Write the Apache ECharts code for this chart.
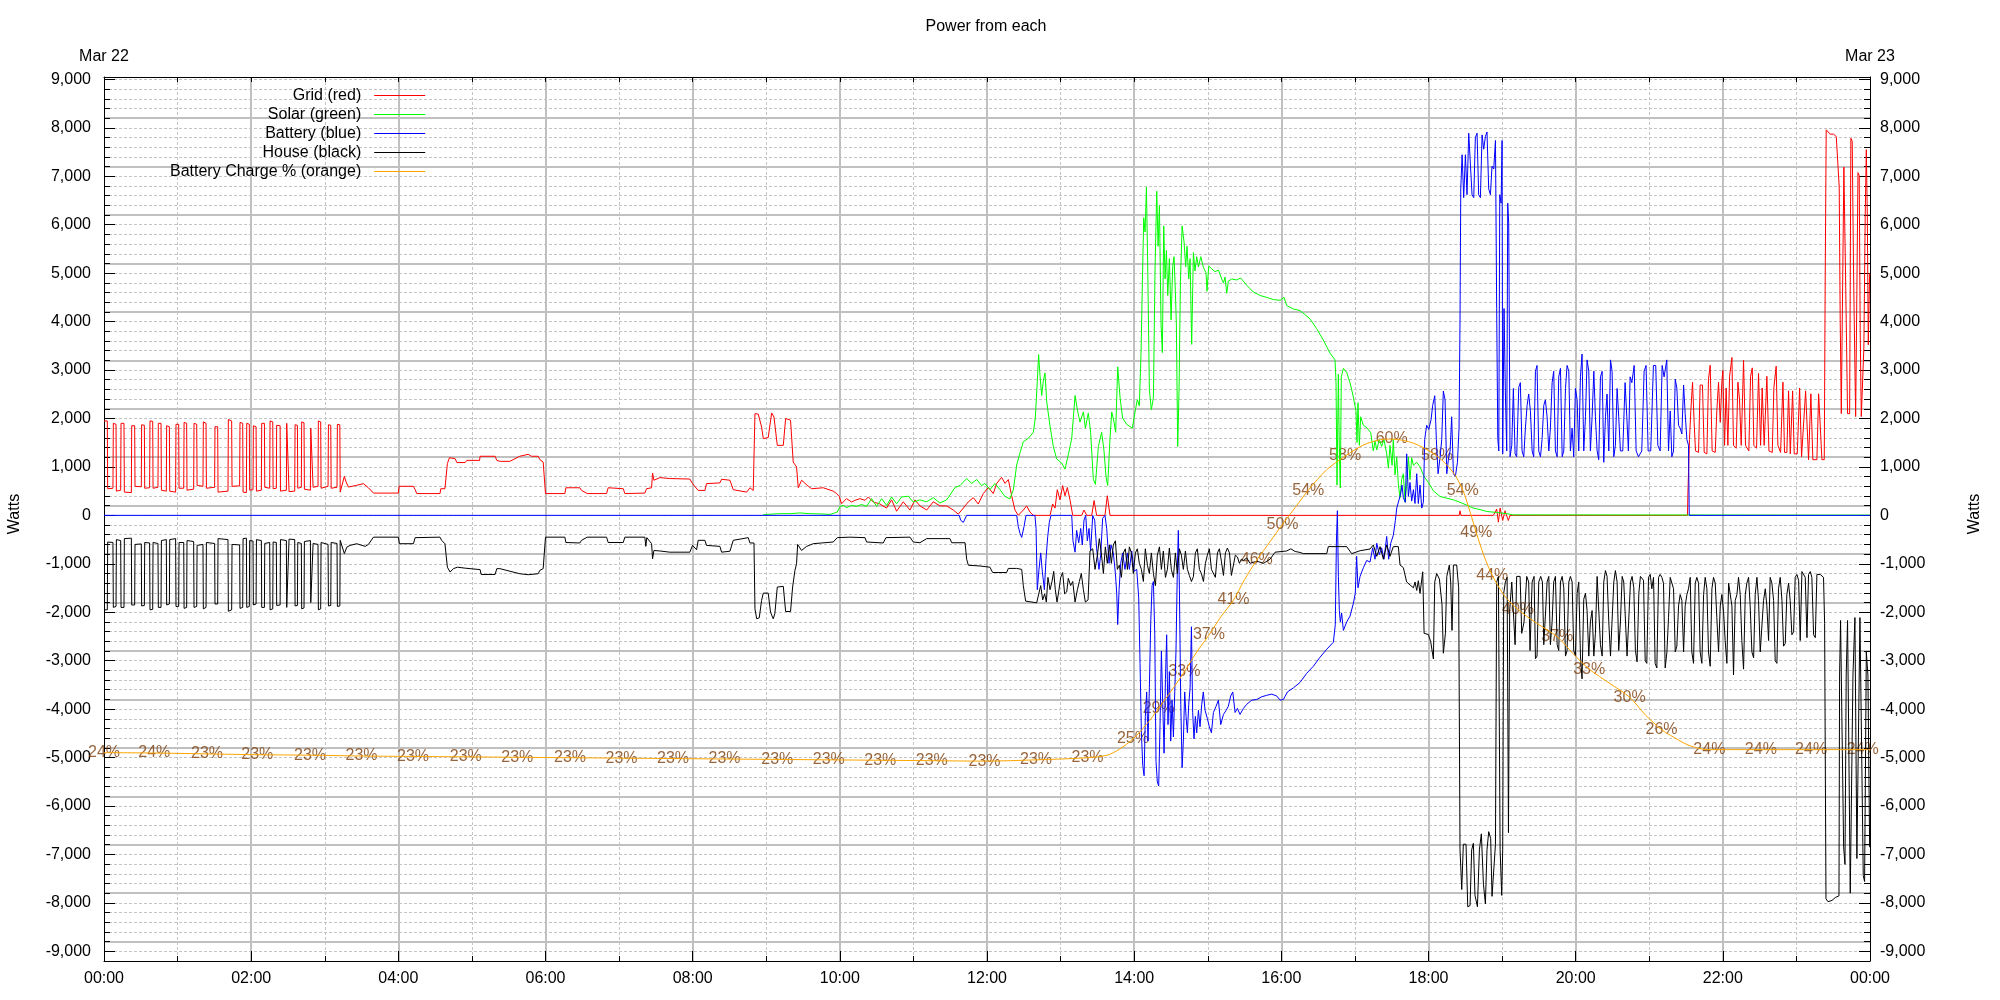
<!DOCTYPE html>
<html><head><meta charset="utf-8">
<script src="https://cdn.jsdelivr.net/npm/echarts@6/dist/echarts.min.js"></script>
<style>html,body{margin:0;padding:0;background:#fff}#c{width:2000px;height:1000px}</style>
</head><body><div id="c"></div>
<script>
// ---------- DATA (x = minutes after midnight, y = watts) ----------
const seriesNames = ['Grid (red)', 'Solar (green)', 'Battery (blue)', 'House (black)', 'Battery Charge % (orange)'];
const dateLabels = ['Mar 22', 'Mar 23'];
const yTickValues = [-9000,-8000,-7000,-6000,-5000,-4000,-3000,-2000,-1000,0,1000,2000,3000,4000,5000,6000,7000,8000,9000];

const gridData = [[0,1950],[2.7,1950],[3,550],[7.3,560],[7.6,1900],[9.8,1880],[10.1,500],[13.6,520],[13.9,1900],[16.3,1900],[16.6,480],[22.3,470],[22.6,1850],[25,1850],[25.3,600],[30.4,590],[30.7,1870],[32.9,1860],[33.2,560],[37.2,570],[37.5,1950],[39.7,1940],[40,560],[44,580],[44.3,1900],[46.5,1900],[46.8,520],[50.8,500],[51.1,1850],[53.3,1830],[53.6,500],[58.4,480],[58.7,1880],[60.9,1880],[61.2,560],[65,560],[65.3,1920],[67.4,1900],[67.7,520],[73.1,540],[73.4,1900],[75.6,1880],[75.9,620],[80.7,600],[81,1930],[83.2,1900],[83.5,560],[90.2,580],[90.5,1830],[92.7,1830],[93,480],[101.1,500],[101.4,1980],[104.1,1950],[104.4,600],[110.6,610],[110.9,1920],[113.1,1900],[113.4,480],[116.1,470],[116.4,1900],[118.5,1880],[118.8,520],[121.5,530],[121.8,1850],[124,1830],[124.3,500],[128.3,520],[128.6,1900],[130.8,1900],[131.1,580],[135.1,560],[135.4,1950],[137.6,1930],[137.9,550],[140.5,560],[140.8,1860],[143.6,1850],[143.9,500],[148.7,520],[149,1900],[150.6,1900],[150.9,490],[155.5,500],[155.8,1870],[157.7,1860],[158,560],[160.9,580],[161.2,1930],[163.1,1910],[163.4,540],[168.3,520],[168.6,1800],[170.2,1790],[170.5,580],[174.5,600],[174.8,1950],[176.7,1930],[177,560],[182.7,600],[183,1870],[184.9,1860],[185.2,560],[190,580],[190.3,1880],[192.3,1870],[192.6,480],[193.9,480],[196,805],[197.4,690],[199.3,585],[206,620],[211.5,655],[215.6,570],[219.7,460],[240,460],[240.6,600],[252.3,600],[253.7,530],[255,450],[274,450],[274.6,550],[278,550],[280,1070],[281.7,1190],[286.3,1170],[287.7,1090],[294.5,1090],[295.8,1135],[306.2,1135],[306.7,1220],[318.9,1220],[320.3,1135],[323,1115],[330.9,1115],[339,1220],[345.9,1260],[348.6,1220],[354,1220],[355.4,1150],[358.1,1100],[360,450],[375.8,450],[376.6,570],[388,570],[389.4,515],[394,450],[409.8,450],[411.1,570],[423.4,550],[424.7,450],[441,460],[442.4,550],[446.5,570],[447.3,875],[448.4,725],[453.3,780],[461.4,760],[477.7,750],[479.9,655],[484.5,515],[490,515],[491.3,655],[502.2,670],[503.6,745],[510.4,725],[513.1,530],[524,480],[526.7,570],[529.4,515],[530.8,2100],[533.5,2090],[536.2,1825],[537.6,1585],[541.6,1605],[544.4,2115],[546.3,2030],[549,1445],[553.9,1445],[555.8,2000],[559.8,1965],[562,1100],[564.7,1000],[566.1,570],[568.8,725],[574.3,600],[577,550],[586.5,570],[587.9,530],[594.6,500],[597.4,450],[599.5,390],[601.4,240],[605.5,345],[609.6,275],[612.3,310],[616.4,345],[620.5,310],[623.2,380],[627.3,275],[632.7,236],[638.1,150],[642.2,320],[646.3,85],[651.7,280],[657.2,110],[661.3,320],[665.3,195],[670.8,110],[676.2,280],[681.6,195],[687.1,195],[692.5,110],[696.6,25],[700.7,150],[704.8,280],[708.8,365],[712.9,235],[717,450],[721.1,575],[725.1,450],[727.9,660],[731.9,785],[734.7,660],[737.4,740],[740.1,405],[742.8,110],[745.5,0],[749.6,110],[752.3,195],[755,70],[757.8,0],[771.4,0],[773.5,235],[775.5,150],[777.3,530],[779.5,320],[781.7,615],[783.6,405],[785.5,575],[787.7,320],[789.9,0],[797.2,0],[799.1,110],[801.3,0],[805.4,0],[807.3,305],[809.4,0],[816.2,0],[818.1,405],[820.3,0],[1105,0],[1105.7,95],[1106.5,0],[1132.9,0],[1135.6,130],[1137,-140],[1138.4,150],[1140.5,-105],[1142.4,95],[1145.1,-105],[1146.5,0],[1291.2,0],[1291.5,440],[1292.6,440],[1292.8,1565],[1293.9,2160],[1295.3,2750],[1296.6,1920],[1297.7,1330],[1300.2,1300],[1301.5,2690],[1303.4,2690],[1304.8,1300],[1307,1270],[1308.3,2810],[1309.7,3100],[1311.3,1330],[1313.8,1300],[1315.1,2160],[1316.5,2750],[1317.9,1920],[1319.2,2750],[1320,2990],[1321.4,1445],[1322.7,2630],[1324.1,1445],[1325.5,2870],[1327.4,3260],[1328.7,1445],[1330.9,1385],[1332.3,2750],[1333.6,2390],[1335,1445],[1336.9,3200],[1338.5,1445],[1341.2,1330],[1342.6,2870],[1344,3045],[1345.3,1445],[1347.5,1385],[1349.1,2930],[1350.8,1445],[1352.1,2630],[1353.7,1445],[1355.9,2870],[1357.6,1330],[1360.3,1300],[1361.6,2630],[1363.5,3080],[1364.9,1445],[1367.1,1300],[1369,2750],[1370.3,1300],[1372.2,1300],[1373.6,2570],[1375,1270],[1376.9,2570],[1378.2,1270],[1380.7,1270],[1382.6,2630],[1384.2,1210],[1385.8,1210],[1387.5,2570],[1389.9,1150],[1391.8,2510],[1393.4,1150],[1396.7,1150],[1398.1,2510],[1400.8,1150],[1402.7,1150],[1403.5,5000],[1404.3,7960],[1405.7,7940],[1407.6,7870],[1410.3,7870],[1412.5,7820],[1414.1,7820],[1414.9,6780],[1415.7,4050],[1416.6,2100],[1417.9,2100],[1418.7,7190],[1419.8,7190],[1420.6,4050],[1421.7,2100],[1423.4,2100],[1424.4,7785],[1425.5,7725],[1426.6,5000],[1428.3,2040],[1429.3,4645],[1430.2,7075],[1431.2,7015],[1432,3815],[1432.9,2040],[1434.2,2040],[1435,3460],[1436.1,6185],[1437,7550],[1437.8,6185],[1438.6,3520],[1439.7,5000]];

const solarData = [[537.6,15],[540.3,20],[551.2,35],[559.3,35],[567.5,50],[575.6,35],[583.8,30],[591.9,20],[594.6,40],[597.9,70],[600.1,185],[602.8,205],[605.5,160],[609.6,205],[613.7,185],[617.8,225],[621.8,185],[625.9,345],[630,185],[634.1,345],[638.2,205],[642.2,380],[646.3,240],[650.4,380],[655.8,395],[659.9,275],[665.3,320],[670.8,280],[676.2,365],[681.6,255],[687.1,320],[689.8,420],[693.9,575],[698,615],[703.4,760],[707.5,660],[711.6,740],[715.6,615],[718.3,660],[722.4,530],[726.5,660],[730.6,530],[734.7,390],[738.7,340],[741.5,530],[744.2,1040],[746.9,1290],[749.6,1520],[753.7,1590],[757.8,1715],[759.4,2010],[761,2770],[762.1,3320],[763.2,2895],[764.6,2475],[765.9,2770],[767.3,2940],[768.7,2345],[771.4,1840],[774.1,1420],[776.8,1165],[780.9,1080],[783.6,955],[786.3,1250],[789.1,1590],[791.8,2475],[793.7,2180],[795.8,1925],[798.6,2135],[800.2,1800],[802.6,2110],[804.5,1715],[806.7,745],[808.4,640],[810.8,1420],[813.5,1715],[815.4,1335],[817.1,785],[818.4,615],[820.3,1590],[821.7,2135],[823.6,1925],[824.9,1715],[826.6,3065],[828.5,2430],[830.6,2010],[833.9,1880],[838.5,1800],[841,2175],[842.6,2390],[844.2,2260],[845.6,3360],[846.7,4795],[847.8,6145],[848.9,5850],[850,6780],[851,5215],[852.4,2600],[854,2180],[855.7,2430],[857,5045],[858.4,6690],[859.5,5555],[860.6,6400],[861.9,3950],[863,3360],[864.1,5975],[865.2,4880],[866.3,5470],[867.4,4540],[868.7,5300],[870.1,4035],[871.4,5130],[872.5,5340],[873.6,4625],[874.4,3950],[875.5,1420],[876.6,2600],[877.7,4795],[879.1,5975],[880.7,5640],[882,5130],[883.1,5555],[884.5,4880],[885.6,5300],[886.9,3530],[888.3,5425],[889.6,5045],[891,5340],[892.4,5130],[894.3,5340],[896.5,5115],[898.6,5005],[899.4,4625],[900.8,5150],[903.2,5090],[906,5030],[908.7,5065],[911.4,4880],[912.8,4795],[914.1,4920],[915.5,4585],[916.8,4835],[919.6,4880],[923.6,4860],[926.9,4900],[931.8,4750],[937.2,4610],[942.7,4540],[948.1,4500],[953.5,4455],[959,4440],[962.2,4500],[964.4,4330],[969.9,4260],[975.2,4230],[983.4,4055],[988.8,3855],[994.2,3620],[999.7,3350],[1003.8,3210],[1004.6,2740],[1005.4,625],[1006.5,2915],[1007.3,1330],[1008.1,565],[1008.9,2860],[1010.6,3035],[1013.3,2950],[1016,2740],[1018.7,2445],[1020.9,2150],[1021.7,1505],[1022.5,2325],[1023.6,1445],[1024.7,2035],[1026.9,1860],[1030.1,1800],[1032.9,1705],[1035,1330],[1036.4,1540],[1037.8,1350],[1039.9,1565],[1041.8,1425],[1043.7,1565],[1045.9,1270],[1047.3,975],[1048.6,1445],[1050.3,1035],[1051.3,1565],[1052.7,835],[1054.1,1210],[1055.4,645],[1056.8,365],[1058.1,740],[1059.5,860],[1060.9,270],[1062.2,625],[1063.6,1210],[1064.9,740],[1066.3,1190],[1067.7,1035],[1070.4,1095],[1073.1,1000],[1076.4,800],[1079.9,680],[1084,505],[1089.4,390],[1094.9,355],[1100.3,320],[1105.7,270],[1111.2,210],[1116.6,150],[1122,120],[1127.5,80],[1135.6,60],[1143.8,35],[1149.2,10],[1440,5]];

const batteryData = [[0,0],[461.5,0],[462,-40],[462.5,0],[697.4,0],[698.5,-100],[700.7,-145],[702.3,-185],[703.4,0],[744.2,0],[745.5,-230],[746.9,-370],[748.3,-455],[750.2,-230],[751.8,0],[759.1,0],[760,-270],[761,-1535],[762.4,-1115],[763.8,-775],[765.1,-1155],[766.8,-1535],[768.1,-905],[769.5,-440],[770.8,-145],[772.2,0],[789.1,0],[790.1,-525],[791.8,-760],[793.1,-310],[794.8,-565],[796.4,-270],[797.7,-610],[799.1,-100],[800.5,0],[801.8,-525],[803.2,-270],[804.5,-735],[806.2,0],[807.8,-100],[809.4,-690],[811.3,-1115],[812.7,-820],[814.3,-60],[816.2,0],[817.6,-270],[819.5,-990],[821.1,-610],[823,-775],[824.7,-1200],[825.8,-1620],[826.6,-2255],[827.7,-1535],[829,-990],[830.6,-775],[832.5,-1115],[834.5,-775],[836.1,-1115],[838,-735],[839.9,-1155],[842.1,-1115],[843.7,-1705],[844.8,-3055],[845.9,-4490],[847,-5165],[848.1,-5375],[849.1,-4150],[850.2,-3645],[851.3,-4660],[852.4,-3560],[853.5,-2210],[854.6,-1450],[855.7,-1365],[856.8,-2465],[857.8,-5080],[858.9,-5505],[860,-5585],[861.1,-4320],[862.2,-2800],[863.3,-3900],[864.4,-4910],[865.5,-3390],[866.5,-2465],[867.6,-4320],[868.7,-3225],[869.8,-4660],[870.9,-3815],[872,-4575],[873.1,-3645],[874.1,-2800],[875.2,-1115],[876,-310],[876.9,-1535],[878,-3900],[879.1,-5210],[880.1,-4660],[881.2,-3645],[882.3,-4150],[883.4,-4490],[884.5,-3900],[885.6,-3560],[886.7,-2300],[887.7,-4065],[888.8,-4615],[889.9,-4150],[891,-4490],[892.4,-4025],[893.7,-4365],[895.1,-3900],[896.4,-3645],[897.8,-4025],[899.7,-4195],[901.3,-4365],[903,-4490],[904.6,-4070],[906.8,-3940],[908.7,-3815],[910.6,-4320],[912.8,-4110],[915,-4025],[916.8,-3940],[918.7,-3730],[920.4,-3645],[922.3,-4070],[924.2,-3985],[926.3,-4110],[929.1,-3985],[931.8,-3900],[935.9,-3815],[940,-3800],[944,-3745],[948.1,-3715],[952.2,-3690],[956.3,-3730],[959,-3815],[961.7,-3800],[965,-3645],[969.9,-3560],[975.2,-3450],[980.7,-3260],[986.1,-3115],[991.5,-2930],[997,-2765],[1002.4,-2620],[1004,-2260],[1004.9,-550],[1005.7,95],[1006.5,-1260],[1007.3,-1965],[1008.1,-2200],[1009.2,-2020],[1010.6,-2375],[1013.3,-2200],[1016,-2080],[1018.7,-1820],[1020.3,-1610],[1021.4,-845],[1022.5,-1495],[1024.2,-1260],[1026.9,-1080],[1029.6,-930],[1032.3,-965],[1034.5,-670],[1036.4,-905],[1037.8,-575],[1039.9,-810],[1041.8,-670],[1043.7,-905],[1045.9,-435],[1047.5,-905],[1049.2,-575],[1051.3,-410],[1053,-105],[1054.1,150],[1055.7,295],[1057.3,445],[1058.4,625],[1059.5,365],[1061.1,270],[1062.2,1270],[1063.6,390],[1064.9,680],[1066.3,295],[1067.7,530],[1069,245],[1070.4,860],[1071.7,245],[1073.1,625],[1074.5,150],[1075.8,270],[1076.9,1565],[1078.5,1860],[1080.2,1775],[1082.1,1975],[1083.4,2270],[1085.1,2470],[1086.4,1565],[1087.8,860],[1089.4,1190],[1090.8,1565],[1092.1,2565],[1093.5,2385],[1094.9,860],[1096.2,1150],[1097.6,1330],[1098.9,2035],[1100.3,860],[1101.9,800],[1103.6,1095],[1104.9,1800],[1105.7,4035],[1106.3,6740],[1107.4,7445],[1108.7,6560],[1110.1,7445],[1111.4,6620],[1112.8,7890],[1114.2,7890],[1115.5,6620],[1116.9,6560],[1118.2,7800],[1119.6,7890],[1120.9,6620],[1122.3,6560],[1123.7,7855],[1125,7560],[1126.4,7820],[1127.7,7915],[1129.1,6740],[1130.5,6620],[1131.8,7210],[1133.2,7150],[1134.6,7740],[1135.6,4270],[1136.5,1590],[1137.3,1330],[1138.1,6620],[1139.2,6445],[1140,7740],[1140.5,1270],[1141.6,4270],[1142.7,2505],[1143.8,1330],[1144.6,6445],[1145.4,6030],[1146.5,1210],[1147.9,1445],[1149.2,2620],[1150.6,1270],[1151.9,1210],[1153.6,2645],[1154.9,2740],[1156.3,1330],[1157.7,1210],[1159,1800],[1160.4,2270],[1161.7,2505],[1163.1,2150],[1164.5,1330],[1165.8,1210],[1167.2,2975],[1168.5,3095],[1169.9,1330],[1171.3,1210],[1172.6,1565],[1174,2270],[1175.3,2385],[1176.7,2035],[1178.1,1330],[1179.4,1800],[1180.8,2740],[1182.1,2975],[1183.5,1330],[1184.9,1210],[1186.2,2860],[1187.6,3035],[1189,1210],[1190.3,1330],[1191.7,2620],[1193,3095],[1194.4,2975],[1195.7,1330],[1197.1,1800],[1198.4,1210],[1199.8,2620],[1201.2,2385],[1202.5,1330],[1203.9,2860],[1205.2,3330],[1206.6,1330],[1208,2035],[1209.3,3210],[1210.7,2975],[1212,1330],[1213.4,2035],[1214.8,2975],[1216.1,2035],[1217.5,1330],[1218.8,1150],[1220.2,2860],[1221.6,2975],[1222.9,1095],[1224.3,2035],[1225.6,2505],[1227,1330],[1228.4,3210],[1229.7,2975],[1231.1,1210],[1232.4,1445],[1233.8,2620],[1235.1,2035],[1236.5,1330],[1238.4,1330],[1240.3,2740],[1241.7,2035],[1243,1330],[1244.4,2860],[1245.8,2740],[1247.7,3095],[1249.3,1330],[1251.2,1210],[1253.9,1330],[1255.8,2975],[1257.4,3095],[1259.1,1330],[1261.2,1330],[1263.4,3095],[1265.3,3095],[1267,1445],[1268.9,1330],[1270.5,3095],[1272.1,2860],[1274.3,3210],[1275.7,1330],[1277.1,2155],[1278.4,1210],[1279.8,1330],[1281.2,2810],[1282.5,2630],[1283.9,1860],[1285.2,1800],[1286.6,1680],[1288,2690],[1289.3,2100],[1290.7,1565],[1292,1445],[1292.6,0],[1440,0]];

const houseData = [[0,-1950],[2.7,-1950],[3,-550],[7.3,-560],[7.6,-1900],[9.8,-1880],[10.1,-500],[13.6,-520],[13.9,-1900],[16.3,-1900],[16.6,-480],[22.3,-470],[22.6,-1850],[25,-1850],[25.3,-600],[30.4,-590],[30.7,-1870],[32.9,-1860],[33.2,-560],[37.2,-570],[37.5,-1950],[39.7,-1940],[40,-560],[44,-580],[44.3,-1900],[46.5,-1900],[46.8,-520],[50.8,-500],[51.1,-1850],[53.3,-1830],[53.6,-500],[58.4,-480],[58.7,-1880],[60.9,-1880],[61.2,-560],[65,-560],[65.3,-1920],[67.4,-1900],[67.7,-520],[73.1,-540],[73.4,-1900],[75.6,-1880],[75.9,-620],[80.7,-600],[81,-1930],[83.2,-1900],[83.5,-560],[90.2,-580],[90.5,-1830],[92.7,-1830],[93,-480],[101.1,-500],[101.4,-1980],[104.1,-1950],[104.4,-600],[110.6,-610],[110.9,-1920],[113.1,-1900],[113.4,-480],[116.1,-470],[116.4,-1900],[118.5,-1880],[118.8,-520],[121.5,-530],[121.8,-1850],[124,-1830],[124.3,-500],[128.3,-520],[128.6,-1900],[130.8,-1900],[131.1,-580],[135.1,-560],[135.4,-1950],[137.6,-1930],[137.9,-550],[140.5,-560],[140.8,-1860],[143.6,-1850],[143.9,-500],[148.7,-520],[149,-1900],[150.6,-1900],[150.9,-490],[155.5,-500],[155.8,-1870],[157.7,-1860],[158,-560],[160.9,-580],[161.2,-1930],[163.1,-1910],[163.4,-540],[168.3,-520],[168.6,-1800],[170.2,-1790],[170.5,-580],[174.5,-600],[174.8,-1950],[176.7,-1930],[177,-560],[182.7,-600],[183,-1870],[184.9,-1860],[185.2,-560],[190,-580],[190.3,-1880],[192.3,-1870],[192.6,-515],[196,-790],[198,-655],[200.7,-620],[206,-585],[213,-640],[215.6,-600],[219.7,-450],[240,-450],[240.9,-585],[252.3,-585],[253.7,-460],[274,-450],[275.3,-515],[278,-585],[280,-1070],[282.2,-1170],[284.9,-1100],[288.2,-1070],[294.5,-1090],[295.8,-1120],[306.7,-1120],[307.5,-1220],[318.9,-1220],[320.3,-1100],[322.8,-1100],[339,-1205],[345.9,-1225],[354,-1205],[355.4,-1135],[358.1,-1100],[360,-450],[375.8,-450],[376.6,-560],[388,-570],[389.4,-515],[394,-450],[409.8,-450],[411.1,-560],[423.4,-560],[424.7,-450],[441,-450],[441.8,-640],[442.6,-460],[446.5,-585],[447.3,-895],[448.4,-725],[453.3,-735],[461.4,-760],[477.7,-760],[479.9,-620],[483.2,-710],[484.5,-515],[490,-515],[491.3,-620],[502.2,-640],[503.6,-760],[510.4,-740],[513.1,-515],[525.3,-460],[526.7,-570],[530,-570],[530.8,-1930],[532.2,-2135],[534.3,-2115],[536.2,-1755],[537.6,-1605],[541.6,-1605],[543.5,-2000],[545.7,-2135],[547,-2030],[549,-1480],[553.9,-1465],[555.8,-1985],[559.8,-1985],[561.5,-1480],[563.4,-1135],[564.7,-1000],[565.6,-600],[568.8,-725],[572.9,-640],[578.3,-585],[585.1,-570],[594.6,-550],[597.9,-460],[608.2,-450],[620.5,-460],[621.8,-550],[635.4,-570],[637.6,-460],[657.2,-450],[659.9,-550],[665.3,-565],[670.8,-480],[689.8,-480],[691.2,-565],[702.1,-565],[703.4,-905],[704.8,-1030],[714.3,-1045],[722.4,-1070],[724.6,-1180],[736,-1180],[737.4,-1095],[744.2,-1095],[748.3,-1115],[749.6,-1450],[751.5,-1770],[760.5,-1805],[762.1,-1790],[763.8,-1450],[765.4,-1745],[767,-1620],[768.4,-1790],[769.7,-1280],[771.4,-1535],[773,-1365],[774.4,-1155],[775.7,-1535],[777.1,-1790],[778.7,-1535],[780.1,-1280],[781.7,-1180],[783.3,-1620],[785,-1580],[786.3,-1300],[788.2,-1450],[789.9,-1365],[791.8,-1790],[793.7,-1535],[795.3,-1365],[796.9,-1200],[798.6,-1535],[800.2,-1790],[802.4,-1745],[804,-735],[806.2,-690],[808.1,-1115],[810,-820],[811.6,-480],[813.2,-775],[814.9,-1200],[816.5,-650],[818.1,-990],[819.8,-610],[821.4,-990],[823,-610],[824.7,-525],[826.3,-1115],[827.9,-1030],[829.6,-1280],[831.2,-775],[832.8,-690],[834.5,-1115],[836.1,-650],[837.7,-775],[839.3,-1200],[841,-775],[842.6,-690],[844.2,-990],[845.9,-1115],[847.5,-1365],[849.1,-690],[850.8,-1030],[852.4,-1200],[854,-775],[855.7,-1200],[857.3,-1450],[858.9,-820],[860.6,-650],[862.2,-1115],[863.8,-735],[865.5,-1280],[867.1,-1115],[868.7,-675],[870.3,-1115],[872,-1280],[873.6,-775],[875.2,-1200],[876.9,-690],[878.5,-820],[880.1,-1115],[881.8,-735],[883.4,-1115],[885,-1240],[886.7,-1365],[888.3,-1265],[889.9,-775],[891.5,-690],[893.2,-1115],[894.8,-1200],[896.5,-1365],[898.1,-990],[899.7,-820],[901.3,-690],[903,-1115],[904.6,-1115],[906.2,-1280],[907.9,-775],[909.5,-690],[911.1,-945],[912.8,-1240],[914.4,-775],[916,-675],[917.7,-775],[919.3,-1240],[920.9,-1280],[922.5,-820],[924.2,-860],[925.8,-990],[927.4,-905],[929.1,-930],[931.8,-880],[934.5,-990],[940,-945],[945.4,-990],[950.8,-905],[954.9,-760],[964.4,-735],[967.7,-690],[971.2,-745],[975.2,-765],[977.9,-790],[997,-790],[998.3,-645],[1013.3,-645],[1017.4,-790],[1024.2,-730],[1032.3,-695],[1035,-610],[1037.8,-845],[1040.5,-645],[1043.2,-905],[1045.9,-610],[1048.6,-845],[1051.3,-645],[1055.4,-645],[1056.8,-1025],[1059.5,-1080],[1062.2,-1375],[1064.9,-1435],[1067.7,-1495],[1069,-1375],[1070.4,-1550],[1071.7,-1350],[1073.1,-1610],[1075.3,-1165],[1076.4,-2435],[1079.9,-2460],[1081.8,-2610],[1084,-2965],[1085.1,-1375],[1086.7,-1200],[1088.9,-1315],[1091,-1845],[1092.1,-2845],[1093.8,-2435],[1094.9,-1260],[1097,-1025],[1098.1,-1375],[1099.2,-2375],[1100.3,-1025],[1103,-1025],[1104.6,-1495],[1105.7,-6905],[1107.1,-7725],[1108.4,-6790],[1110.6,-6790],[1112,-8080],[1113.9,-8055],[1115.2,-6905],[1116.6,-6770],[1117.9,-7845],[1119.9,-8080],[1121.5,-6905],[1123.1,-6575],[1124.8,-7615],[1126.4,-8020],[1127.7,-6905],[1129.1,-6530],[1130.7,-6670],[1131.8,-7865],[1133.2,-7845],[1134.6,-6790],[1135.6,-1375],[1137,-1260],[1138.4,-6905],[1139.7,-7845],[1140.5,-6905],[1141.3,-1610],[1142.7,-1375],[1144.1,-1280],[1145.2,-6550],[1146.2,-1965],[1147.9,-1375],[1149.2,-1375],[1150.6,-2670],[1151.9,-1260],[1154.7,-1260],[1156,-2435],[1157.9,-2200],[1160.1,-1260],[1161.7,-1375],[1162.8,-2790],[1164.5,-1375],[1166.1,-1260],[1167.2,-2960],[1168.5,-2905],[1169.9,-1375],[1171.5,-1260],[1172.9,-1375],[1174,-2670],[1175.3,-2080],[1176.7,-1375],[1178.1,-1260],[1179.4,-2670],[1180.8,-2200],[1182.1,-1375],[1183.5,-1260],[1184.9,-2670],[1186.2,-2790],[1187.6,-1375],[1189,-1260],[1190.3,-1495],[1191.7,-2905],[1193,-2790],[1194.4,-1375],[1195.7,-1260],[1197.1,-1375],[1198.4,-2790],[1199.8,-2905],[1201.2,-1610],[1202.5,-1375],[1203.9,-2905],[1205.2,-3375],[1206.6,-1730],[1208,-1610],[1209.3,-1965],[1210.7,-2905],[1212,-2200],[1213.4,-1965],[1214.8,-2905],[1216.1,-2435],[1217.5,-1260],[1218.8,-1260],[1220.2,-2670],[1221.6,-2905],[1222.9,-1375],[1224.3,-1140],[1225.6,-1260],[1227,-2200],[1228.4,-2905],[1229.7,-2905],[1231.1,-1375],[1232.4,-1140],[1233.8,-1375],[1235.1,-2790],[1236.5,-2200],[1237.9,-1260],[1239.2,-1375],[1241.9,-2905],[1243.3,-2905],[1244.7,-1375],[1246,-1260],[1247.4,-1495],[1248.7,-2790],[1250.1,-3025],[1251.5,-1610],[1252.8,-1260],[1255.3,-1340],[1256.7,-3000],[1258,-3055],[1259.4,-1280],[1260.8,-1220],[1262.1,-1515],[1263.5,-1280],[1264.8,-3055],[1266.2,-3150],[1267.6,-1280],[1268.9,-1220],[1270.3,-1280],[1271.6,-1400],[1273,-3150],[1274.4,-2820],[1275.7,-2110],[1277.1,-1280],[1278.4,-1280],[1279.8,-1515],[1281.2,-2820],[1282.5,-2700],[1283.9,-1870],[1285.2,-1635],[1286.6,-1755],[1288,-2820],[1289.3,-1870],[1290.7,-1635],[1292,-1515],[1293.4,-1280],[1294.7,-2820],[1296.1,-3055],[1297.5,-1400],[1298.8,-1280],[1300.2,-1400],[1301.5,-2820],[1302.9,-3055],[1304.3,-1635],[1305.6,-1280],[1307,-1515],[1308.3,-2820],[1309.7,-3115],[1311.1,-1515],[1312.4,-1280],[1313.8,-1400],[1315.1,-2110],[1316.5,-2820],[1317.9,-1870],[1319.2,-1635],[1320.6,-1990],[1321.9,-2585],[1323.3,-3055],[1324.7,-1400],[1326,-1400],[1327.4,-1870],[1328.7,-3295],[1330.1,-1755],[1331.5,-1635],[1332.8,-1280],[1334.2,-1635],[1335.5,-2585],[1336.9,-3175],[1338.3,-1635],[1339.6,-1400],[1341,-1280],[1342.3,-1870],[1343.7,-2820],[1345.1,-2940],[1346.4,-1635],[1347.8,-1280],[1349.1,-1755],[1350.5,-2820],[1351.8,-2820],[1353.2,-1755],[1354.6,-1515],[1355.9,-1870],[1357.3,-2585],[1358.6,-1280],[1360,-1400],[1361.4,-1755],[1362.7,-3000],[1364.1,-3055],[1365.4,-1515],[1366.8,-1280],[1368.2,-1755],[1369.5,-2700],[1370.9,-2645],[1372.2,-1635],[1373.6,-1400],[1374.9,-1755],[1376.3,-2465],[1377.7,-2405],[1379,-1280],[1380.4,-1220],[1381.8,-1340],[1383.1,-2585],[1384.5,-1160],[1385.8,-1160],[1387.2,-1280],[1388.6,-2525],[1389.9,-1220],[1391.3,-1160],[1392.6,-1280],[1394,-2465],[1395.4,-2525],[1396.7,-1220],[1399.4,-1220],[1402.1,-1280],[1403,-2230],[1404.1,-7915],[1405.7,-7975],[1409,-7950],[1411.7,-7890],[1414.7,-7855],[1415.2,-3295],[1416,-2170],[1417.4,-2170],[1418.5,-6850],[1419.6,-7205],[1420.6,-3295],[1421.7,-2170],[1422.8,-2170],[1423.9,-7800],[1425,-7800],[1426.1,-3295],[1427.7,-2110],[1429.3,-7085],[1430.7,-7085],[1431.8,-2110],[1433.4,-2110],[1434.5,-7440],[1435.6,-7560],[1437,-2820],[1438.3,-3295],[1439.7,-6850]];

// battery state of charge, percent (plotted on its own hidden scale)
const chargeMin = [0,41,84,125,168,210,252,295,337,380,422,464,506,549,591,633,675,718,760,802,818,828,839,850,860,872,881,891,901,911,921,930,940,951,961,972,982,997,1012,1027,1040,1050,1068,1087,1100,1108,1114,1119,1125,1132,1142,1153,1168,1185,1198,1211,1228,1244,1257,1270,1280,1290,1300,1309,1351,1392,1434,1440];
const chargePct = [23.6,23.55,23.45,23.35,23.3,23.2,23.15,23.1,23.05,23.0,22.95,22.9,22.85,22.8,22.75,22.7,22.65,22.6,22.75,23.0,23.3,24.0,25.2,26.9,28.8,31.2,33.1,35.4,37.4,39.6,41.5,43.9,46.2,48.4,50.4,52.5,54.4,56.8,58.4,59.7,60.3,60.4,59.9,58.4,56.5,54.4,51.8,49.4,46.8,44.4,42,40.4,38.8,37.2,35.2,33.4,31.7,30.1,28,26.3,25.4,24.6,24.1,23.95,23.95,23.95,23.95,23.95];
const chargeLbl = [24,24,23,23,23,23,23,23,23,23,23,23,23,23,23,23,23,23,23,23,null,null,25,null,29,null,33,null,37,null,41,null,46,null,50,null,54,null,58,null,null,60,null,58,null,54,null,49,null,44,null,40,null,37,null,33,null,30,null,26,null,null,null,24,24,24,24,null];

// ---------- CHART ----------
const FONT = 'Liberation Sans, Arial, sans-serif';
const MAJOR = '#c0c0c0', MINOR = '#c4c4c4';
const chargeLine = chargeMin.map((m, i) => [m, chargePct[i]]);
const chargeLabels = [];
chargeMin.forEach((m, i) => { if (chargeLbl[i] !== null) chargeLabels.push([m, chargePct[i], chargeLbl[i]]); });
const hhmm = v => String(Math.floor(v / 60) % 24).padStart(2, '0') + ':00';
const fmtW = v => (v % 1000 === 0 ? Number(v).toLocaleString('en-US') : '');
const Y_MIN = -9200, Y_MAX = 9050;
const lbl = { color: '#000', fontSize: 16, fontFamily: FONT };

const chart = echarts.init(document.getElementById('c'), null, { renderer: 'canvas' });
chart.setOption({
  animation: false,
  backgroundColor: '#fff',
  grid: { left: 104, right: 130, top: 77, bottom: 39, containLabel: false, outerBoundsMode: 'none' },
  graphic: [
    { type: 'text', x: 986, y: 27, style: { text: 'Power from each', font: '16px ' + FONT, fill: '#000', align: 'center', verticalAlign: 'middle' } },
    { type: 'text', x: 15, y: 514, rotation: Math.PI / 2, style: { text: 'Watts', font: '16px ' + FONT, fill: '#000', align: 'center', verticalAlign: 'middle' } },
    { type: 'text', x: 1975, y: 514, rotation: Math.PI / 2, style: { text: 'Watts', font: '16px ' + FONT, fill: '#000', align: 'center', verticalAlign: 'middle' } }
  ],
  legend: {
    data: seriesNames, orient: 'vertical', left: 170, top: 86, padding: 0, align: 'right',
    icon: 'rect', itemWidth: 51, itemHeight: 1, itemGap: 0, selectedMode: false,
    textStyle: { color: '#000', fontSize: 16, fontFamily: FONT, lineHeight: 19, padding: [0, 8, 0, 0] }
  },
  xAxis: [
    { type: 'value', position: 'bottom', min: 0, max: 1440, interval: 60,
      axisLine: { show: true, onZero: false, lineStyle: { color: '#000', width: 1 } },
      axisTick: { show: true, inside: true, length: 5, lineStyle: { color: '#000' } },
      axisLabel: { show: false },
      splitLine: { show: true, showMinLine: false, showMaxLine: false, lineStyle: { color: MINOR, width: 1, type: [3, 2] } } },
    { type: 'value', position: 'bottom', min: 0, max: 1440, interval: 120,
      axisLine: { show: false, onZero: false },
      axisTick: { show: true, inside: true, length: 10, lineStyle: { color: '#000' } },
      axisLabel: Object.assign({ show: true, margin: 10, formatter: hhmm }, lbl),
      splitLine: { show: true, showMinLine: false, showMaxLine: false, lineStyle: { color: MAJOR, width: 2 } } },
    { type: 'value', position: 'top', min: 0, max: 1440, interval: 60,
      axisLine: { show: true, onZero: false, lineStyle: { color: '#000', width: 1 } },
      axisTick: { show: true, inside: true, length: 5, lineStyle: { color: '#000' } },
      axisLabel: { show: false }, splitLine: { show: false } },
    { type: 'value', position: 'top', min: 0, max: 1440, interval: 1440,
      axisLine: { show: false, onZero: false }, axisTick: { show: false },
      axisLabel: Object.assign({ show: true, margin: 12, formatter: v => (v === 0 ? dateLabels[0] : dateLabels[1]) }, lbl),
      splitLine: { show: false } }
  ],
  yAxis: [
    { type: 'value', position: 'left', min: Y_MIN, max: Y_MAX, interval: 200,
      axisLine: { show: true, onZero: false, lineStyle: { color: '#000', width: 1 } },
      axisTick: { show: true, inside: true, length: 6, lineStyle: { color: '#000' } },
      axisLabel: { show: false },
      splitLine: { show: true, showMinLine: false, showMaxLine: false, lineStyle: { color: MINOR, width: 1, type: [3, 2] } } },
    { type: 'value', position: 'left', min: Y_MIN, max: Y_MAX,
      axisLine: { show: false, onZero: false },
      axisTick: { show: true, inside: true, length: 11, customValues: yTickValues, lineStyle: { color: '#000' } },
      axisLabel: Object.assign({ show: true, margin: 13, customValues: yTickValues, formatter: fmtW }, lbl),
      splitLine: { show: false } },
    { type: 'value', position: 'left', min: Y_MIN, max: Y_MAX, interval: 200,
      axisLine: { show: false, onZero: false }, axisTick: { show: false }, axisLabel: { show: false },
      splitLine: { show: true, showMinLine: false, showMaxLine: false,
        lineStyle: { color: ['rgba(0,0,0,0)', MAJOR, 'rgba(0,0,0,0)', 'rgba(0,0,0,0)', 'rgba(0,0,0,0)'], width: 2 } } },
    { type: 'value', position: 'right', min: Y_MIN, max: Y_MAX, interval: 200,
      axisLine: { show: true, onZero: false, lineStyle: { color: '#000', width: 1 } },
      axisTick: { show: true, inside: true, length: 6, lineStyle: { color: '#000' } },
      axisLabel: { show: false }, splitLine: { show: false } },
    { type: 'value', position: 'right', min: Y_MIN, max: Y_MAX,
      axisLine: { show: false, onZero: false },
      axisTick: { show: true, inside: true, length: 11, customValues: yTickValues, lineStyle: { color: '#000' } },
      axisLabel: Object.assign({ show: true, margin: 10, customValues: yTickValues, formatter: fmtW }, lbl),
      splitLine: { show: false } },
    // hidden percent scale for the state-of-charge trace
    { type: 'value', show: false, min: -0.858, max: 102.89 }
  ],
  series: [
    { name: seriesNames[0], type: 'line', data: gridData, xAxisIndex: 0, yAxisIndex: 0, symbol: 'none', showSymbol: false, lineStyle: { color: '#ff0000', width: 1 }, itemStyle: { color: '#ff0000' } },
    { name: seriesNames[1], type: 'line', data: solarData, xAxisIndex: 0, yAxisIndex: 0, symbol: 'none', showSymbol: false, lineStyle: { color: '#00ff00', width: 1 }, itemStyle: { color: '#00ff00' } },
    { name: seriesNames[2], type: 'line', data: batteryData, xAxisIndex: 0, yAxisIndex: 0, symbol: 'none', showSymbol: false, lineStyle: { color: '#0000ff', width: 1 }, itemStyle: { color: '#0000ff' } },
    { name: seriesNames[3], type: 'line', data: houseData, xAxisIndex: 0, yAxisIndex: 0, symbol: 'none', showSymbol: false, lineStyle: { color: '#000000', width: 1 }, itemStyle: { color: '#000000' } },
    { name: seriesNames[4], type: 'line', data: chargeLine, xAxisIndex: 0, yAxisIndex: 5, symbol: 'none', showSymbol: false, smooth: 0.3, lineStyle: { color: '#ffa500', width: 1 }, itemStyle: { color: '#ffa500' } },
    { name: 'chargeLabels', type: 'scatter', data: chargeLabels, xAxisIndex: 0, yAxisIndex: 5, symbolSize: 1,
      itemStyle: { color: 'rgba(0,0,0,0)' }, silent: true,
      label: { show: true, position: 'inside', formatter: p => p.data[2] + '%', color: '#7d3f0c', fontSize: 16, fontFamily: FONT } }
  ]
});
</script>
</body></html>
